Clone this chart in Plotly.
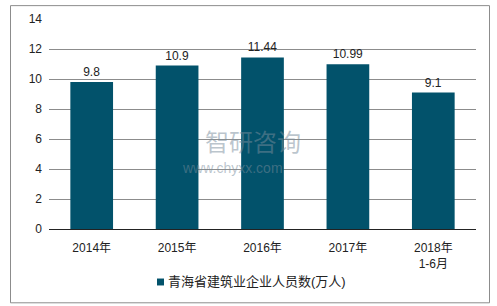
import plotly.graph_objects as go

categories = ["2014年", "2015年", "2016年", "2017年", "2018年<br>1-6月"]
values = [9.8, 10.9, 11.44, 10.99, 9.1]
labels = ["9.8", "10.9", "11.44", "10.99", "9.1"]
series_name = "青海省建筑业企业人员数(万人)"
y_ticks = [0, 2, 4, 6, 8, 10, 12, 14]

FONT = "Liberation Sans, Arial, Noto Sans CJK SC, sans-serif"
BAR = "#02526B"

fig = go.Figure()
fig.add_trace(go.Bar(
    x=categories, y=values, name=series_name,
    marker=dict(color=BAR, line=dict(width=0)),
    text=labels, textposition="outside", cliponaxis=False,
    textfont=dict(size=12, color="#222222", family=FONT),
    showlegend=False,
))

L, R, T, B = 49, 21, 17, 77
W, H = 497, 306
pw, ph = W - L - R, H - T - B

def px_x(x):
    return (x - L) / pw

def px_y(y):
    return (H - B - y) / ph

fig.update_layout(
    width=W, height=H,
    margin=dict(l=L, r=R, t=T, b=B),
    paper_bgcolor="white", plot_bgcolor="white",
    font=dict(family=FONT, size=12, color="#222222"),
    bargap=0.5,
    showlegend=False,
    xaxis=dict(showgrid=False, showline=True, linecolor="#222222", linewidth=1,
               ticks="", tickfont=dict(size=12, color="#222222"), ticklabelstandoff=8),
    yaxis=dict(range=[0, 14], tickvals=y_ticks, showgrid=True, gridcolor="#8C8C8C",
               gridwidth=1, zeroline=False, showline=False, ticks="",
               tickfont=dict(size=12, color="#222222"), ticklabelstandoff=6),
    shapes=[
        dict(type="rect", xref="paper", yref="paper",
             x0=px_x(10.5), x1=px_x(489.5), y0=px_y(303.5), y1=px_y(3.5),
             line=dict(color="#8C8C8C", width=1), fillcolor="rgba(0,0,0,0)", layer="below"),
        dict(type="rect", xref="paper", yref="paper",
             x0=px_x(157), x1=px_x(164), y0=px_y(286), y1=px_y(279),
             line=dict(width=0), fillcolor=BAR),
    ],
    annotations=[
        dict(text=series_name, xref="paper", yref="paper", x=px_x(166), y=px_y(282.5),
             xanchor="left", yanchor="middle", showarrow=False,
             font=dict(size=13, color="#222222", family=FONT)),
        dict(text="智研咨询", xref="paper", yref="paper", x=px_x(203), y=px_y(140),
             xanchor="left", yanchor="middle", showarrow=False,
             font=dict(size=24, color="rgba(120,140,155,0.5)", family="Noto Sans CJK SC")),
        dict(text="www.chyxx.com", xref="paper", yref="paper", x=px_x(180), y=px_y(167),
             xanchor="left", yanchor="middle", showarrow=False,
             font=dict(size=14, color="rgba(120,140,155,0.5)", family=FONT)),
    ],
)

fig.write_html("out.html")
